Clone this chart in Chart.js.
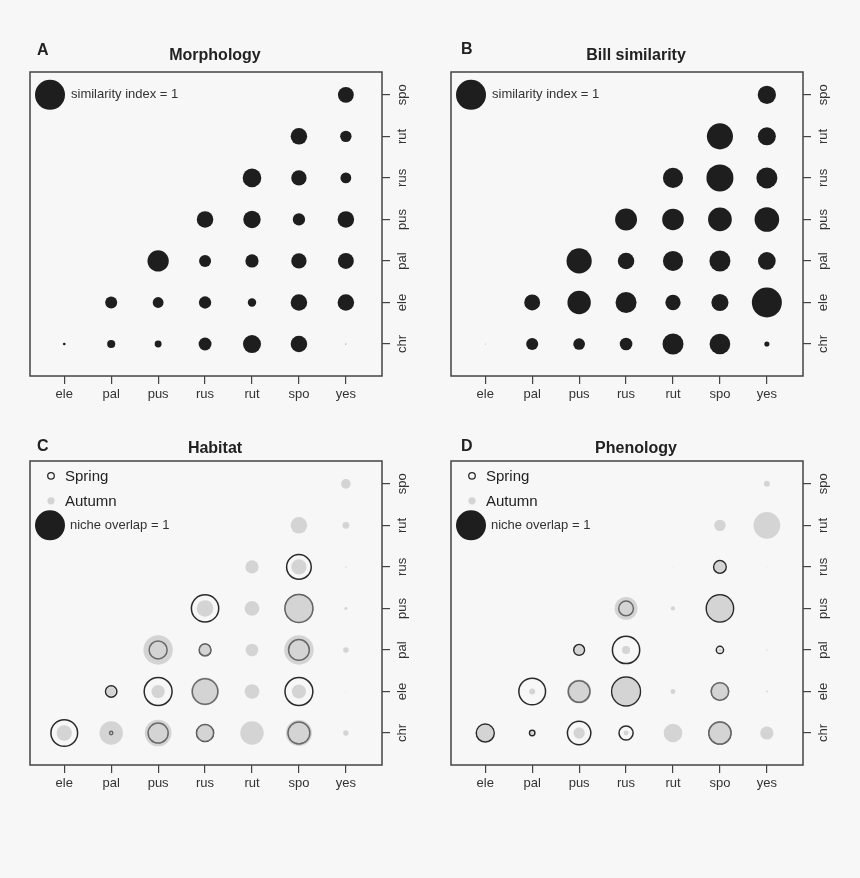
<!DOCTYPE html>
<html>
<head>
<meta charset="utf-8">
<script src="https://cdn.jsdelivr.net/npm/chart.js@4.4.0/dist/chart.umd.min.js"></script>
<style>
  body { margin: 0; background: #f7f7f7; }
  .panel { position: absolute; width: 430px; height: 420px; }
</style>
</head>
<body>
<div class="panel" style="left:0;top:0"><canvas id="chart-a" width="430" height="420"></canvas></div>
<div class="panel" style="left:421px;top:0"><canvas id="chart-b" width="430" height="420"></canvas></div>
<div class="panel" style="left:0;top:389px"><canvas id="chart-c" width="430" height="420"></canvas></div>
<div class="panel" style="left:421px;top:389px"><canvas id="chart-d" width="430" height="420"></canvas></div>
<script>
// species codes
const xLabels = ["ele", "pal", "pus", "rus", "rut", "spo", "yes"];
const yLabels = ["chr", "ele", "pal", "pus", "rus", "rut", "spo"];

// rows follow yLabels (chr .. spo), columns follow xLabels; null = no symbol
const morphology = [
  [0.09, 0.27, 0.23, 0.43, 0.60, 0.55, 0.03],
  [null, 0.40, 0.36, 0.41, 0.28, 0.55, 0.55],
  [null, null, 0.71, 0.40, 0.44, 0.51, 0.53],
  [null, null, null, 0.55, 0.58, 0.41, 0.55],
  [null, null, null, null, 0.62, 0.51, 0.36],
  [null, null, null, null, null, 0.55, 0.38],
  [null, null, null, null, null, null, 0.53],
];

const billSimilarity = [
  [0.02, 0.40, 0.39, 0.42, 0.70, 0.69, 0.17],
  [null, 0.53, 0.78, 0.70, 0.51, 0.57, 1.00],
  [null, null, 0.84, 0.55, 0.67, 0.70, 0.59],
  [null, null, null, 0.73, 0.72, 0.79, 0.82],
  [null, null, null, null, 0.67, 0.90, 0.70],
  [null, null, null, null, null, 0.87, 0.60],
  [null, null, null, null, null, null, 0.61],
];

const habitatSpring = [
  [0.89, 0.11, 0.67, 0.57, null, 0.73, null],
  [null, 0.38, 0.93, 0.85, null, 0.93, null],
  [null, null, 0.60, 0.39, null, 0.69, null],
  [null, null, null, 0.91, null, 0.93, null],
  [null, null, null, null, null, 0.82, null],
  [null, null, null, null, null, null, null],
  [null, null, null, null, null, null, null],
];

const habitatAutumn = [
  [0.51, 0.78, 0.89, 0.60, 0.78, 0.87, 0.18],
  [null, 0.30, 0.44, 0.93, 0.49, 0.47, 0.03],
  [null, null, 0.98, 0.42, 0.42, 0.98, 0.18],
  [null, null, null, 0.55, 0.49, 0.97, 0.10],
  [null, null, null, null, 0.44, 0.51, 0.05],
  [null, null, null, null, null, 0.55, 0.23],
  [null, null, null, null, null, null, 0.32],
];

const phenologySpring = [
  [0.60, 0.18, 0.78, 0.47, null, 0.74, null],
  [null, 0.89, 0.72, 0.96, null, 0.58, null],
  [null, null, 0.36, 0.91, null, 0.24, null],
  [null, null, null, 0.49, null, 0.91, null],
  [null, null, null, null, null, 0.42, null],
  [null, null, null, null, null, null, null],
  [null, null, null, null, null, null, null],
];

const phenologyAutumn = [
  [0.55, 0.10, 0.38, 0.16, 0.62, 0.78, 0.44],
  [null, 0.20, 0.80, 0.92, 0.16, 0.63, 0.06],
  [null, null, 0.28, 0.27, 0.02, 0.12, 0.04],
  [null, null, null, 0.76, 0.14, 0.87, 0.02],
  [null, null, null, null, 0.03, 0.37, 0.03],
  [null, null, null, null, null, 0.38, 0.89],
  [null, null, null, null, null, null, 0.20],
];

const FONT = '"Liberation Sans", Arial, sans-serif';
const R_ONE = 15; // pixel radius of a symbol with index = 1
const INK = "#1e1e1e";
const RING = "#2a2a2a";
const GREY = "rgba(174,174,174,0.48)";

// grid of values -> bubble points
function toBubbles(grid) {
  const pts = [];
  grid.forEach((row, yi) => {
    row.forEach((v, xi) => {
      if (v != null) pts.push({ x: xi + 1, y: yi + 1, r: v * R_ONE });
    });
  });
  return pts;
}

// letter, title, frame and in-plot legend
function decor(cfg) {
  return {
    id: "decor",
    beforeDatasetsDraw(chart) {
      const a = chart.chartArea;
      const ctx = chart.ctx;
      ctx.save();
      ctx.strokeStyle = "#444";
      ctx.lineWidth = 1.5;
      ctx.strokeRect(a.left, a.top, a.right - a.left, a.bottom - a.top);
      ctx.restore();
    },
    afterDraw(chart) {
      const a = chart.chartArea;
      const ctx = chart.ctx;
      const ys = chart.scales.y;
      ctx.save();
      ctx.fillStyle = "#222";
      ctx.textBaseline = "middle";
      ctx.font = "bold 16px " + FONT;
      ctx.textAlign = "left";
      ctx.fillText(cfg.letter, cfg.letterX, cfg.letterY);
      ctx.textAlign = "center";
      ctx.fillText(cfg.title, 215, cfg.titleY);

      const cx = a.left + 21;
      ctx.textAlign = "left";
      if (cfg.seasons) {
        const top = ys.getPixelForValue(7);
        ctx.beginPath();
        ctx.arc(cx, top - 8, 3.3, 0, Math.PI * 2);
        ctx.strokeStyle = RING;
        ctx.lineWidth = 1.3;
        ctx.stroke();
        ctx.beginPath();
        ctx.arc(cx, top + 17, 3.6, 0, Math.PI * 2);
        ctx.fillStyle = GREY;
        ctx.fill();
        ctx.fillStyle = "#222";
        ctx.font = "15px " + FONT;
        ctx.fillText("Spring", a.left + 35, top - 7);
        ctx.fillText("Autumn", a.left + 35, top + 18);
        const yr = ys.getPixelForValue(6);
        ctx.beginPath();
        ctx.arc(cx - 1, yr, R_ONE, 0, Math.PI * 2);
        ctx.fillStyle = INK;
        ctx.fill();
        ctx.fillStyle = "#333";
        ctx.font = "13px " + FONT;
        ctx.fillText(cfg.legendText, a.left + 40, yr);
      } else {
        const yr = ys.getPixelForValue(7);
        ctx.beginPath();
        ctx.arc(cx - 1, yr, R_ONE, 0, Math.PI * 2);
        ctx.fillStyle = INK;
        ctx.fill();
        ctx.fillStyle = "#333";
        ctx.font = "13px " + FONT;
        ctx.fillText(cfg.legendText, a.left + 41, yr);
      }
      ctx.restore();
    },
  };
}

function makePanel(id, cfg, datasets) {
  const tickFont = { family: FONT, size: 13 };
  return new Chart(document.getElementById(id), {
    type: "bubble",
    data: { datasets: datasets },
    options: {
      responsive: false,
      animation: false,
      devicePixelRatio: 1,
      events: [],
      layout: { padding: { left: 30, top: 72, right: 0, bottom: 0 } },
      plugins: { legend: { display: false }, tooltip: { enabled: false } },
      scales: {
        x: {
          type: "linear",
          min: 0.27,
          max: 7.77,
          afterBuildTicks: (s) => { s.ticks = xLabels.map((_, i) => ({ value: i + 1 })); },
          afterFit: (s) => { s.height = 44; },
          grid: { drawOnChartArea: false, drawTicks: true, tickLength: 8, color: "#444", lineWidth: 1.2 },
          border: { display: false },
          ticks: { color: "#333", font: tickFont, padding: 3, maxRotation: 0,
                   callback: (v) => xLabels[v - 1] },
        },
        y: {
          type: "linear",
          position: "right",
          min: 0.23,
          max: 7.55,
          afterBuildTicks: (s) => { s.ticks = yLabels.map((_, i) => ({ value: i + 1 })); },
          afterFit: (s) => { s.width = 48; },
          grid: { drawOnChartArea: false, drawTicks: true, tickLength: 8, color: "#444", lineWidth: 1.2 },
          border: { display: false },
          ticks: { color: "#333", font: tickFont, padding: 2, minRotation: 90, maxRotation: 90,
                   crossAlign: "center", callback: (v) => yLabels[v - 1] },
        },
      },
    },
    plugins: [decor(cfg)],
  });
}

function solid(grid) {
  return [{ data: toBubbles(grid), backgroundColor: INK, borderWidth: 0 }];
}

// autumn first so it is drawn over the spring rings
function seasons(spring, autumn) {
  return [
    { label: "Autumn", data: toBubbles(autumn), backgroundColor: GREY, borderWidth: 0 },
    { label: "Spring", data: toBubbles(spring), backgroundColor: "rgba(0,0,0,0)",
      borderColor: RING, borderWidth: 1.5 },
  ];
}

makePanel("chart-a", { letter: "A", letterX: 37, letterY: 51, title: "Morphology", titleY: 56,
  legendText: "similarity index = 1" }, solid(morphology));
makePanel("chart-b", { letter: "B", letterX: 40, letterY: 50, title: "Bill similarity", titleY: 56,
  legendText: "similarity index = 1" }, solid(billSimilarity));
makePanel("chart-c", { letter: "C", letterX: 37, letterY: 58, title: "Habitat", titleY: 60,
  legendText: "niche overlap = 1", seasons: true }, seasons(habitatSpring, habitatAutumn));
makePanel("chart-d", { letter: "D", letterX: 40, letterY: 58, title: "Phenology", titleY: 60,
  legendText: "niche overlap = 1", seasons: true }, seasons(phenologySpring, phenologyAutumn));
</script>
</body>
</html>
